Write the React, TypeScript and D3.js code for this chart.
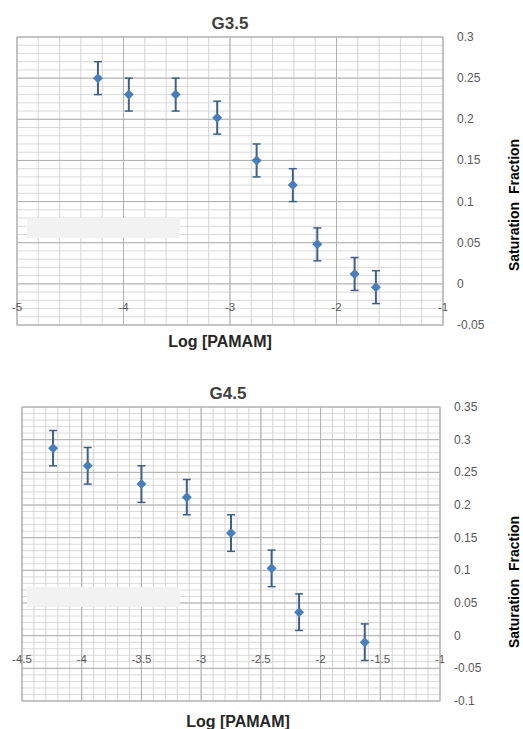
import React from "react";
import * as d3 from "d3";

// ---------- data ----------
const g35X = [-4.24, -3.95, -3.51, -3.12, -2.75, -2.41, -2.18, -1.83, -1.63];
const g35Y = [0.25, 0.23, 0.23, 0.202, 0.15, 0.12, 0.048, 0.012, -0.004];
const g35Err = [0.02, 0.02, 0.02, 0.02, 0.02, 0.02, 0.02, 0.02, 0.02];
const g35XTicks = [-5, -4, -3, -2, -1];
const g35YTicks = [-0.05, 0, 0.05, 0.1, 0.15, 0.2, 0.25, 0.3];

const g45X = [-4.24, -3.95, -3.5, -3.12, -2.75, -2.41, -2.18, -1.63];
const g45Y = [0.287, 0.26, 0.232, 0.212, 0.157, 0.103, 0.036, -0.01];
const g45Err = [0.027, 0.028, 0.028, 0.027, 0.028, 0.028, 0.028, 0.028];
const g45XTicks = [-4.5, -4, -3.5, -3, -2.5, -2, -1.5, -1];
const g45YTicks = [-0.1, -0.05, 0, 0.05, 0.1, 0.15, 0.2, 0.25, 0.3, 0.35];

const xTitle = "Log [PAMAM]";
const yTitle = "Saturation\u00a0\u00a0Fraction";

const FONT = "'Liberation Sans', Arial, sans-serif";

type ChartProps = {
  title: string;
  xs: number[];
  ys: number[];
  errs: number[];
  xTicks: number[];
  yTicks: number[];
  xMinor: number;
  yMinor: number;
  box: { left: number; right: number; top: number; bottom: number };
  titleX: number;
  titleY: number;
  xTitleX: number;
  xTitleY: number;
  yTitleY: number;
  cover: { x: number; y: number; w: number; h: number };
};

function Chart(p: ChartProps) {
  const xDom = d3.extent(p.xTicks) as [number, number];
  const yDom = d3.extent(p.yTicks) as [number, number];
  const x = d3.scaleLinear().domain(xDom).range([p.box.left, p.box.right]);
  const y = d3.scaleLinear().domain(yDom).range([p.box.bottom, p.box.top]);
  const nx = Math.round((xDom[1] - xDom[0]) / p.xMinor);
  const ny = Math.round((yDom[1] - yDom[0]) / p.yMinor);
  const xMinorVals = d3.range(nx + 1).map((i) => xDom[0] + i * p.xMinor);
  const yMinorVals = d3.range(ny + 1).map((i) => yDom[0] + i * p.yMinor);
  const diamond = d3.symbol().type(d3.symbolDiamond2).size(64)();
  const fmt = (v: number) => String(+v.toFixed(3));
  const zeroY = y(0);
  return (
    <g>
      <text x={p.titleX} y={p.titleY} textAnchor="middle" fontFamily={FONT} fontWeight="bold" fontSize={17} fill="#404040">
        {p.title}
      </text>
      <rect x={p.box.left} y={p.box.top} width={p.box.right - p.box.left} height={p.box.bottom - p.box.top} fill="#fff" />
      {yMinorVals.map((v, i) => (
        <line key={"ym" + i} x1={p.box.left} x2={p.box.right} y1={y(v)} y2={y(v)} stroke="#dadada" strokeWidth={1} />
      ))}
      {xMinorVals.map((v, i) => (
        <line key={"xm" + i} x1={x(v)} x2={x(v)} y1={p.box.top} y2={p.box.bottom} stroke="#d4d4d4" strokeWidth={1} />
      ))}
      {p.yTicks.map((v, i) => (
        <line key={"yM" + i} x1={p.box.left} x2={p.box.right} y1={y(v)} y2={y(v)} stroke="#b0b0b0" strokeWidth={1} />
      ))}
      {p.xTicks.map((v, i) => (
        <line key={"xM" + i} x1={x(v)} x2={x(v)} y1={p.box.top} y2={p.box.bottom} stroke="#b0b0b0" strokeWidth={1} />
      ))}
      <rect x={p.box.left} y={p.box.top} width={p.box.right - p.box.left} height={p.box.bottom - p.box.top} fill="none" stroke="#b8b8b8" strokeWidth={1} />
      <rect x={p.cover.x} y={p.cover.y} width={p.cover.w} height={p.cover.h} fill="#f2f2f2" />
      {p.xTicks.map((v, i) => (
        <text key={"xl" + i} x={x(v)} y={zeroY + 27} textAnchor="middle" fontFamily={FONT} fontSize={11.5} fill="#595959">
          {fmt(v)}
        </text>
      ))}
      {p.yTicks.map((v, i) => (
        <text key={"yl" + i} x={p.box.right + 14} y={y(v) + 4} textAnchor="start" fontFamily={FONT} fontSize={12} fill="#595959">
          {fmt(v)}
        </text>
      ))}
      {p.xs.map((xv, i) => {
        const cx = x(xv);
        const y1 = y(p.ys[i] + p.errs[i]);
        const y2 = y(p.ys[i] - p.errs[i]);
        return (
          <g key={"pt" + i}>
            <line x1={cx} x2={cx} y1={y1} y2={y2} stroke="#3d5f8a" strokeWidth={2} />
            <line x1={cx - 4} x2={cx + 4} y1={y1} y2={y1} stroke="#3d5f8a" strokeWidth={1.5} />
            <line x1={cx - 4} x2={cx + 4} y1={y2} y2={y2} stroke="#3d5f8a" strokeWidth={1.5} />
            <path d={diamond || ""} transform={`translate(${cx},${y(p.ys[i])})`} fill="#4a7ebb" />
          </g>
        );
      })}
      <text x={p.xTitleX} y={p.xTitleY} textAnchor="middle" fontFamily={FONT} fontWeight="bold" fontSize={16} fill="#262626">
        {xTitle}
      </text>
      <text
        transform={`translate(515,${p.yTitleY}) rotate(-90)`}
        textAnchor="middle"
        dominantBaseline="middle"
        fontFamily={FONT}
        fontWeight="bold"
        fontSize={14}
        fill="#000"
      >
        {yTitle}
      </text>
    </g>
  );
}

export default function App() {
  return (
    <svg width={523} height={729} style={{ position: "absolute", left: 0, top: 0, background: "#fff" }}>
      <rect width={523} height={729} fill="#fff" />
      <Chart
        title="G3.5"
        xs={g35X}
        ys={g35Y}
        errs={g35Err}
        xTicks={g35XTicks}
        yTicks={g35YTicks}
        xMinor={0.2}
        yMinor={0.01}
        box={{ left: 17, right: 443, top: 37, bottom: 325 }}
        titleX={230}
        titleY={29}
        xTitleX={220}
        xTitleY={347}
        yTitleY={205}
        cover={{ x: 27, y: 218, w: 153, h: 20 }}
      />
      <Chart
        title="G4.5"
        xs={g45X}
        ys={g45Y}
        errs={g45Err}
        xTicks={g45XTicks}
        yTicks={g45YTicks}
        xMinor={0.1}
        yMinor={0.01}
        box={{ left: 22, right: 440, top: 407, bottom: 701 }}
        titleX={228}
        titleY={399}
        xTitleX={238}
        xTitleY={727}
        yTitleY={582}
        cover={{ x: 27, y: 587, w: 153, h: 20 }}
      />
    </svg>
  );
}
